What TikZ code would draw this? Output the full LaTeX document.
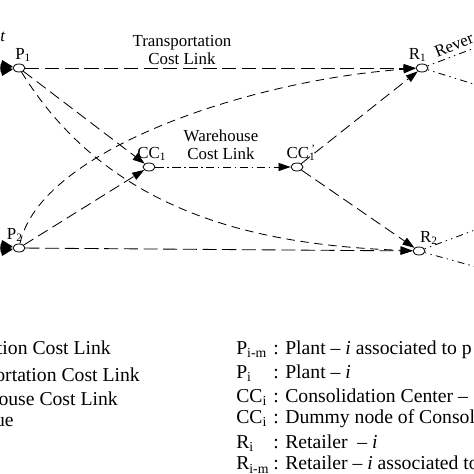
\documentclass[tikz,border=0pt]{standalone}
\usepackage{fontspec}
\setmainfont{Liberation Serif}
\usetikzlibrary{arrows.meta,shapes.geometric}
\tikzset{
  site/.style={draw, ellipse, fill=white, minimum width=0.3cm,
    minimum height=0.2cm, inner sep=0pt, line width=0.6pt},
  link/.style={line width=0.6pt, -{Triangle[length=0.3cm,width=0.2cm]}},
  trans/.style={link, dash pattern=on 10pt off 4pt},
  short/.style={link, dash pattern=on 8pt off 4pt},
  curv/.style={link, dash pattern=on 6pt off 4pt},
  whouse/.style={link, dash pattern=on 6pt off 2.5pt on 1pt off 2.5pt},
  rev/.style={line width=0.6pt, dash pattern=on 1pt off 3pt on 1pt off 3pt on 5pt off 3pt},
  feed/.style={line width=0.6pt, -{Triangle[length=0.3cm,width=0.2cm]}},
  legend/.style={font=\fontsize{14}{16}\selectfont, inner sep=0pt},
  every label/.style={inner sep=1pt}
}
\begin{document}
\begin{tikzpicture}[font=\fontsize{12}{13}\selectfont]
\useasboundingbox (0, 0) rectangle (11.85, 11.85);

\node[site, label={[xshift=3pt]above:P\textsubscript{1}}] (P1) at (0.475, 10.15) {};
\node[site, label={[xshift=-3pt]above:P\textsubscript{2}}] (P2) at (0.475, 5.65) {};
\node[site, label={[xshift=2pt]above:CC\textsubscript{1}}] (CC1) at (3.725, 7.675) {};
\node[site, label={[xshift=3pt]above:CC\textsubscript{1}\kern-0.25em\textsuperscript{'}}]
  (CC1d) at (7.425, 7.675) {};
\node[site, label={[xshift=-3pt]above:R\textsubscript{1}}] (R1) at (10.55, 10.15) {};
\node[site, label={[xshift=7pt]above:R\textsubscript{2}}] (R2) at (10.475, 5.575) {};

\node[align=center] (tlab) at (4.55, 10.6) {Transportation\\Cost Link};
\node[align=center] (wlab) at (5.525, 8.225) {Warehouse\\Cost Link};
\node[anchor=base west, rotate=22, inner sep=0pt] (revlab) at (10.925, 10.4) {Rever};
\node[anchor=base west, inner sep=0pt] (toplab) at (0, 10.8) {\textit{t}};

\foreach \nd in {P1,P2}
  \foreach \dy [count=\k] in {0.1,0,-0.1} {
    \coordinate (\nd-in\k) at ([shift={(-0.45,\dy)}]\nd.center);
    \draw[feed] (\nd-in\k) -- (\nd);
  }

\draw[trans] (P1) -- (R1);
\draw[trans] (P2) -- (R2);
\draw[short] (P1) -- (CC1);
\draw[short] (P2) -- (CC1);
\draw[whouse] (CC1) -- (CC1d);
\draw[short] (CC1d) -- (R1);
\draw[short] (CC1d) -- (R2);

\draw[curv] (P2) .. controls (1.0, 8.1) and (6.25, 9.85) .. (R1);
\draw[curv] (P1) .. controls (2.75, 6.475) and (6.5, 5.725) .. (R2);

\coordinate (R1up) at (12.0, 10.7);
\coordinate (R1dn) at (12.0, 9.7);
\coordinate (R2up) at (12.0, 6.15);
\coordinate (R2dn) at (12.0, 5.15);
\draw[rev] (R1) -- (R1up);
\draw[rev] (R1) -- (R1dn);
\draw[rev] (R2) -- (R2up);
\draw[rev] (R2) -- (R2dn);

\node[legend, anchor=base east] (l1) at (2.775, 3.0) {tion Cost Link};
\node[legend, anchor=base east] (l2) at (3.5, 2.3) {ortation Cost Link};
\node[legend, anchor=base east] (l3) at (2.95, 1.725) {ouse Cost Link};
\node[legend, anchor=base east] (l4) at (0.35, 1.2) {ue};

\node[legend, anchor=base west] (s1) at (5.9, 3.0) {P\textsubscript{i-m}};
\node[legend, anchor=base west] (s2) at (5.9, 2.4) {P\textsubscript{i}};
\node[legend, anchor=base west] (s3) at (5.9, 1.8) {CC\textsubscript{i}};
\node[legend, anchor=base west] (s4) at (5.9, 1.275) {CC\textsubscript{i}};
\node[legend, anchor=base west] (s5) at (5.9, 0.65) {R\textsubscript{i}};
\node[legend, anchor=base west] (s6) at (5.9, 0.1) {R\textsubscript{i-m}};

\node[legend, anchor=base west] (d1) at (6.825, 3.0) {: Plant -- \textit{i} associated to p};
\node[legend, anchor=base west] (d2) at (6.825, 2.4) {: Plant -- \textit{i}};
\node[legend, anchor=base west] (d3) at (6.825, 1.8) {: Consolidation Center --};
\node[legend, anchor=base west] (d4) at (6.825, 1.275) {: Dummy node of Consol};
\node[legend, anchor=base west] (d5) at (6.825, 0.65) {: Retailer \ -- \textit{i}};
\node[legend, anchor=base west] (d6) at (6.825, 0.1) {: Retailer -- \textit{i} associated to};

\end{tikzpicture}
\end{document}
